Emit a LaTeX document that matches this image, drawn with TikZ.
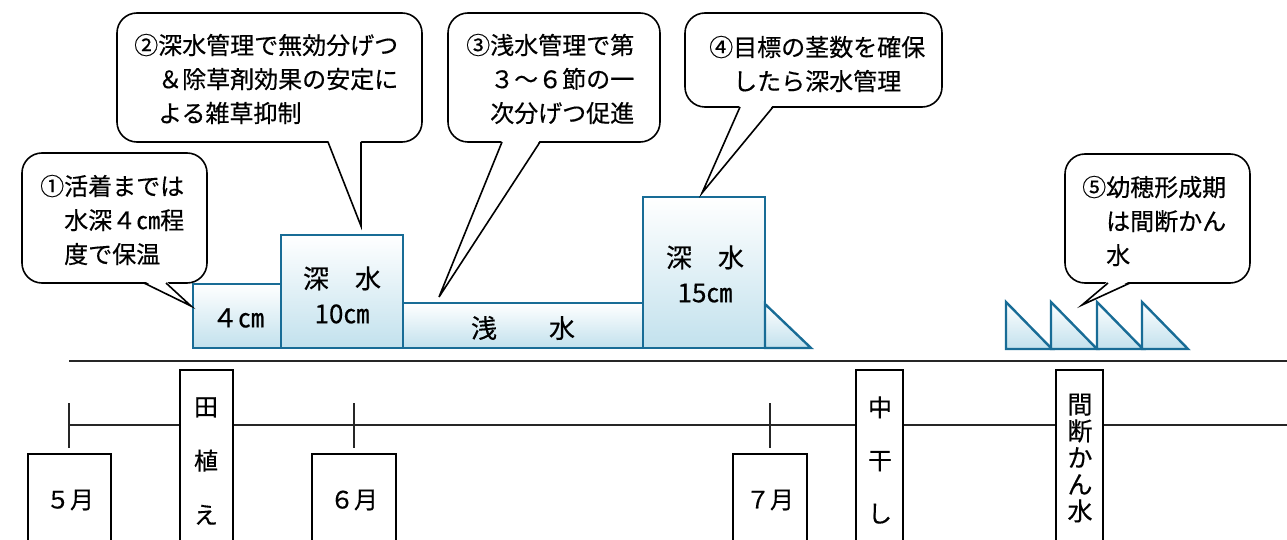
\documentclass[tikz,border=0pt]{standalone}
\usepackage{fontspec}
\setmainfont{Noto Sans CJK JP}[FakeBold=0.4]
\definecolor{wline}{RGB}{24,108,150}
\definecolor{wbot}{RGB}{194,225,237}
\begin{document}
\begin{tikzpicture}[x=1pt,y=-1pt,
  water/.style={draw=wline,line width=2.4pt,top color=white,bottom color=wbot},
  bubble/.style={draw=black,line width=1.6pt,fill=white,rounded corners=20pt},
  tailline/.style={draw=black,line width=1.6pt,line join=miter},
  ctext/.style={font=\fontsize{24}{34}\selectfont,align=left,inner sep=0pt,anchor=west},
  wtext/.style={font=\fontsize{26}{35}\selectfont,align=center,inner sep=0pt},
  tbox/.style={draw=black,line width=1.5pt,fill=white},
  mtext/.style={font=\fontsize{24}{30}\selectfont,inner sep=0pt},
  vtext/.style={align=center,inner sep=0pt},
  axis/.style={draw=black!85,line width=2pt},
  tline/.style={draw=black!85,line width=1.4pt}
]
\useasboundingbox (0,0) rectangle (1287,540);
\clip (0,0) rectangle (1287,540);

% ---------- water levels ----------
\path[water] (193,284) rectangle (281,348);
\path[water] (281,235) rectangle (403,348);
\path[water] (403,303) rectangle (643,348);
\path[water] (643,197) rectangle (765,348);
\path[water,line join=miter] (765,304) -- (811,348) -- (765,348) -- cycle;
\foreach \x in {1006,1051,1097,1142}{
  \path[water,line join=miter] (\x,302) -- (\x+46,349) -- (\x,349) -- cycle;
}
\node[wtext] (w4) at (238,318) {４㎝};
\node[wtext] (w10) at (342,295) {深　水\\10㎝};
\node[wtext] (wasa) at (523,328) {浅　　水};
\node[wtext] (w15) at (705,274) {深　水\\15㎝};

% ---------- callouts ----------
% 1
\path[bubble] (22,153) rectangle (207,283);
\fill[white] (144,281) -- (191,306) -- (166,281) -- cycle;
\draw[tailline] (144,283) -- (191,306) -- (166,283);
\node[ctext] (c1) at (40,220) {①活着までは\\\hspace*{1em}水深４㎝程\\\hspace*{1em}度で保温};
% 2
\path[bubble] (117,13) rectangle (422,142);
\fill[white] (328,140) -- (361,226) -- (361,140) -- cycle;
\draw[tailline] (328,142) -- (361,226) -- (361,142);
\node[ctext] (c2) at (134,79) {②深水管理で無効分げつ\\\hspace*{1em}＆除草剤効果の安定に\\\hspace*{1em}よる雑草抑制};
% 3
\path[bubble] (448,13) rectangle (660,142);
\fill[white] (502,140) -- (439,297) -- (540,140) -- cycle;
\draw[tailline] (502,142) -- (439,297) -- (540,142);
\node[ctext] (c3) at (466,79) {③浅水管理で第\\\hspace*{1em}３～６節の一\\\hspace*{1em}次分げつ促進};
% 4
\path[bubble] (685,13) rectangle (942,107);
\fill[white] (740,105) -- (702,193) -- (773,105) -- cycle;
\draw[tailline] (740,107) -- (702,193) -- (773,107);
\node[ctext] (c4) at (709,64) {④目標の茎数を確保\\\hspace*{1em}したら深水管理};
% 5
\path[bubble] (1065,154) rectangle (1250,283);
\fill[white] (1108,281) -- (1082,305) -- (1130,281) -- cycle;
\draw[tailline] (1108,283) -- (1082,305) -- (1130,283);
\node[ctext] (c5) at (1082,221) {⑤幼穂形成期\\\hspace*{1em}は間断かん\\\hspace*{1em}水};

% ---------- timeline ----------
\draw[axis] (69,361) -- (1287,361);
\draw[tline] (69,425) -- (1287,425);
\foreach \x in {69,354,770}{ \draw[tline] (\x,403) -- (\x,448); }

\path[tbox] (180,370) rectangle (233,560);
\path[tbox] (856,370) rectangle (903,560);
\path[tbox] (1056,370) rectangle (1103,560);
\path[tbox] (28,454) rectangle (111,560);
\path[tbox] (312,454) rectangle (396,560);
\path[tbox] (733,454) rectangle (807,560);

\node[mtext] (m5) at (70,500) {５月};
\node[mtext] (m6) at (354,500) {６月};
\node[mtext] (m7) at (770,500) {７月};
\node[vtext,font=\fontsize{24}{54}\selectfont] (taue) at (206,461) {田\\植\\え};
\node[vtext,font=\fontsize{24}{53}\selectfont] (naka) at (880,460) {中\\干\\し};
\node[vtext,font=\fontsize{25}{26.7}\selectfont] (kandan) at (1080,458) {間\\断\\か\\ん\\水};
\end{tikzpicture}
\end{document}
